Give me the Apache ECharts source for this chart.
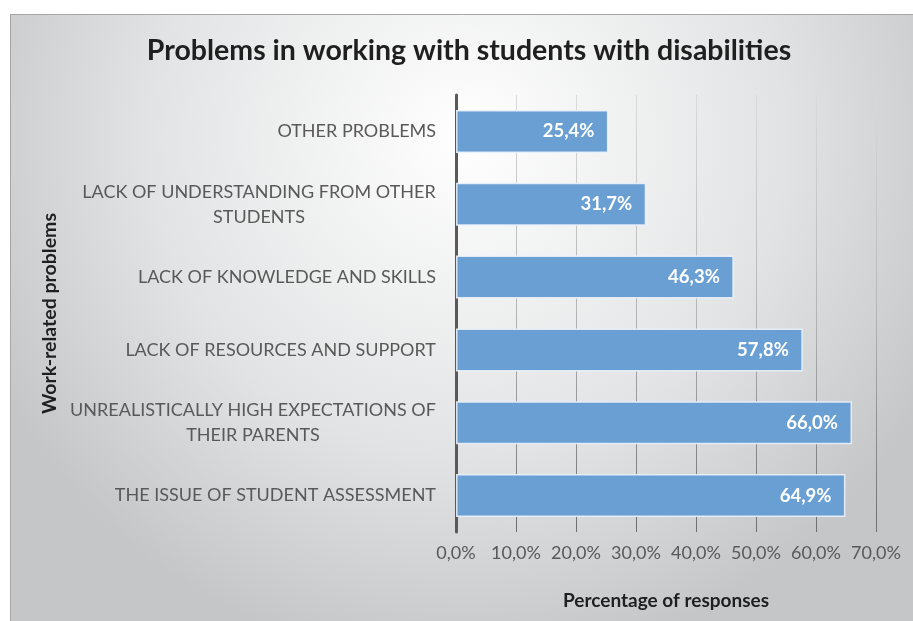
<!DOCTYPE html>
<html>
<head>
<meta charset="utf-8">
<script src="https://cdn.jsdelivr.net/npm/echarts@6/dist/echarts.min.js"></script>
<style>
    html, body { margin: 0; padding: 0; background: #fff; }
    #chart { width: 913px; height: 621px; }
</style>
</head>
<body>
<div id="chart"></div>
<script>
    // categories top -> bottom
    const categories = [
        'OTHER PROBLEMS',
        'LACK OF UNDERSTANDING FROM OTHER\nSTUDENTS',
        'LACK OF KNOWLEDGE AND SKILLS',
        'LACK OF RESOURCES AND SUPPORT',
        'UNREALISTICALLY HIGH EXPECTATIONS OF\nTHEIR PARENTS',
        'THE ISSUE OF STUDENT ASSESSMENT'
    ]
    const values = [25.4, 31.7, 46.3, 57.8, 66.0, 64.9]
    const xTicks = [0, 10, 20, 30, 40, 50, 60, 70]

    const fmt = v => v.toFixed(1).replace('.', ',') + '%'
    const font = 'Lato, "Open Sans", sans-serif'

    const mChart = echarts.init(document.getElementById('chart'))
    const option = {
        backgroundColor: '#fff',
        textStyle: { fontFamily: font },
        graphic: [
            // chart frame with grey radial fill
            {
                type: 'rect',
                z: -10,
                silent: true,
                shape: { x: 10.5, y: 14.5, width: 910, height: 620 },
                style: {
                    fill: {
                        type: 'radial', x: 0.5, y: 0.2, r: 0.85,
                        colorStops: [
                            { offset: 0, color: '#ffffff' },
                            { offset: 0.6, color: '#e2e3e4' },
                            { offset: 1, color: '#c5c6c8' }
                        ]
                    },
                    stroke: '#a6a6a6',
                    lineWidth: 1
                }
            }
        ],
        title: {
            text: 'Problems in working with students with disabilities',
            left: 464,
            textAlign: 'center',
            top: 31,
            textStyle: { fontFamily: font, fontSize: 28.5, fontWeight: 'bold', color: '#1f1f1f' }
        },
        grid: { left: 456, right: 37, top: 95, bottom: 89, containLabel: false },
        xAxis: {
            type: 'value',
            min: 0,
            max: 70,
            interval: 10,
            name: 'Percentage of responses',
            nameLocation: 'middle',
            nameGap: 59,
            nameTextStyle: { fontFamily: font, fontSize: 19, fontWeight: 'bold', color: '#1f1f1f' },
            axisLine: { show: false },
            axisTick: { show: false },
            axisLabel: {
                color: '#595959',
                fontSize: 18,
                margin: 12,
                formatter: v => xTicks.includes(v) ? fmt(v) : ''
            },
            splitLine: {
                show: true,
                lineStyle: {
                    width: 1,
                    color: {
                        type: 'linear', x: 0, y: 95, x2: 0, y2: 532, global: true,
                        colorStops: [
                            { offset: 0, color: '#dadada' },
                            { offset: 0.5, color: '#b4b4b4' },
                            { offset: 1, color: '#6e6e6e' }
                        ]
                    }
                }
            }
        },
        yAxis: {
            type: 'category',
            inverse: true,
            data: categories,
            name: 'Work-related problems',
            nameLocation: 'middle',
            nameGap: 396,
            nameRotate: 90,
            nameTextStyle: { fontFamily: font, fontSize: 19.5, fontWeight: 'bold', color: '#1f1f1f' },
            axisLine: { show: true, lineStyle: { color: '#595959', width: 3 } },
            axisTick: { show: false },
            axisLabel: {
                color: '#595959',
                fontSize: 18,
                margin: 20,
                lineHeight: 25,
                formatter: (v, i) => {
                    if (!v.includes('\n')) return v
                    const key = i === 1 ? 'a' : 'b'
                    return v.split('\n').map(s => '{' + key + '|' + s + '}').join('\n')
                },
                rich: {
                    a: { width: 354, align: 'center', color: '#595959', fontSize: 18, lineHeight: 25, fontFamily: font },
                    b: { width: 366, align: 'center', color: '#595959', fontSize: 18, lineHeight: 25, fontFamily: font }
                }
            }
        },
        series: {
            type: 'bar',
            data: values,
            barCategoryGap: '41%',
            itemStyle: {
                color: '#6a9fd4',
                borderColor: 'rgba(235,242,250,0.9)',
                borderWidth: 1.5
            },
            label: {
                show: true,
                position: 'insideRight',
                distance: 14,
                color: '#ffffff',
                fontSize: 18.5,
                fontWeight: 'bold',
                fontFamily: font,
                formatter: p => fmt(p.value)
            }
        }
    }
    mChart.setOption(option)
    window.addEventListener('resize', function() {
        mChart.resize()
    })
</script>
</body>
</html>
